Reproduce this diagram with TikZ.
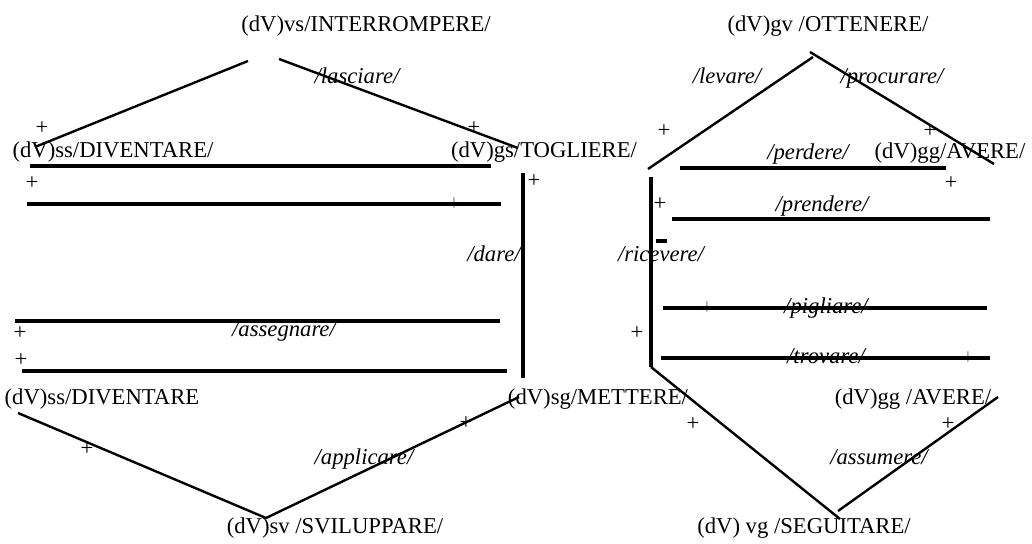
\documentclass[tikz,border=0pt]{standalone}
\usepackage{fontspec}
\setmainfont{Liberation Serif}
\usetikzlibrary{positioning}
\tikzset{
  lbl/.style={inner sep=0pt, font=\fontsize{17}{20}\selectfont},
  verb/.style={inner sep=0pt, font=\fontsize{17}{20}\selectfont\itshape},
  sgn/.style={inner sep=0pt, font=\fontsize{17}{20}\selectfont},
  faint/.style={sgn, text=gray},
  bar/.style={line width=2.4pt},
  slant/.style={line width=1.8pt}
}

\begin{document}
\begin{tikzpicture}[x=0.75pt,y=-0.75pt]
    \useasboundingbox (0,0) rectangle (1032,543);
    % verb nodes
    \node[lbl, anchor=base] (vs) at (366,31) {(dV)vs/INTERROMPERE/};
    \node[lbl, anchor=base] (gv) at (828,31) {(dV)gv /OTTENERE/};
    \node[lbl, anchor=base] (ssA) at (113,157) {(dV)ss/DIVENTARE/};
    \node[lbl, anchor=base] (gs) at (544,157) {(dV)gs/TOGLIERE/};
    \node[lbl, anchor=base] (ggA) at (950,158) {(dV)gg/AVERE/};
    \node[lbl, anchor=base] (ssB) at (102,404) {(dV)ss/DIVENTARE};
    \node[lbl, anchor=base] (sg) at (598,404) {(dV)sg/METTERE/};
    \node[lbl, anchor=base] (ggB) at (913,404) {(dV)gg /AVERE/};
    \node[lbl, anchor=base] (sv) at (335,533) {(dV)sv /SVILUPPARE/};
    \node[lbl, anchor=base] (vg) at (804,533) {(dV) vg /SEGUITARE/};
    % link labels
    \node[verb, anchor=base] (lasciare) at (357,83) {/lasciare/};
    \node[verb, anchor=base] (levare) at (727,83) {/levare/};
    \node[verb, anchor=base] (procurare) at (892,83) {/procurare/};
    \node[verb, anchor=base] (perdere) at (808,159) {/perdere/};
    \node[verb, anchor=base] (prendere) at (822,211) {/prendere/};
    \node[verb, anchor=base] (dare) at (494,261) {/dare/};
    \node[verb, anchor=base] (ricevere) at (661,261) {/ricevere/};
    \node[verb, anchor=base] (assegnare) at (284,336) {/assegnare/};
    \node[verb, anchor=base] (pigliare) at (826,313) {/pigliare/};
    \node[verb, anchor=base] (trovare) at (826,363) {/trovare/};
    \node[verb, anchor=base] (applicare) at (364,464) {/applicare/};
    \node[verb, anchor=base] (assumere) at (879,464) {/assumere/};
    % signs
    \node[sgn] (p1) at (42,128) {+};
    \node[sgn] (p2) at (474,128) {+};
    \node[sgn] (p3) at (32,183) {+};
    \node[sgn] (p4) at (534,181) {+};
    \node[sgn] (p5) at (664,131) {+};
    \node[sgn] (p6) at (930,131) {+};
    \node[sgn] (p7) at (951,183) {+};
    \node[sgn] (p8) at (660,204) {+};
    \node[faint] (p9) at (454,204) {+};
    \node[sgn] (p10) at (20,333) {+};
    \node[sgn] (p11) at (21,360) {+};
    \node[sgn] (p12) at (637,333) {+};
    \node[faint] (p13) at (707,308) {+};
    \node[faint] (p14) at (968,358) {+};
    \node[sgn] (p15) at (87,449) {+};
    \node[sgn] (p16) at (466,423) {+};
    \node[sgn] (p17) at (693,424) {+};
    \node[sgn] (p18) at (948,424) {+};
    % line ends
    \coordinate (a1) at (35,147);  \coordinate (a2) at (248,61);
    \coordinate (b1) at (279,59);  \coordinate (b2) at (518,148);
    \coordinate (c1) at (30,166);  \coordinate (c2) at (491,166);
    \coordinate (d1) at (27,204);  \coordinate (d2) at (501,204);
    \coordinate (e1) at (523,173); \coordinate (e2) at (523,378);
    \coordinate (f1) at (15,321);  \coordinate (f2) at (500,321);
    \coordinate (g1) at (22,371);  \coordinate (g2) at (507,371);
    \coordinate (h1) at (648,169); \coordinate (h2) at (813,57);
    \coordinate (i1) at (810,52);  \coordinate (i2) at (994,164);
    \coordinate (j1) at (680,168); \coordinate (j2) at (946,168);
    \coordinate (k1) at (672,219); \coordinate (k2) at (990,219);
    \coordinate (l1) at (651,177); \coordinate (l2) at (651,367); \coordinate (l3) at (840,519);
    \coordinate (m1) at (663,308); \coordinate (m2) at (987,308);
    \coordinate (n1) at (661,358); \coordinate (n2) at (990,358);
    \coordinate (o1) at (18,413);  \coordinate (o2) at (266,518); \coordinate (o3) at (519,397);
    \coordinate (q1) at (838,511); \coordinate (q2) at (998,397);
    \coordinate (r1) at (656,241); \coordinate (r2) at (667,241);
    % lines
    \draw[slant] (a1) -- (a2);
    \draw[slant] (b1) -- (b2);
    \draw[bar] (c1) -- (c2);
    \draw[bar] (d1) -- (d2);
    \draw[bar] (e1) -- (e2);
    \draw[bar] (f1) -- (f2);
    \draw[bar] (g1) -- (g2);
    \draw[slant] (h1) -- (h2);
    \draw[slant] (i1) -- (i2);
    \draw[bar] (j1) -- (j2);
    \draw[bar] (k1) -- (k2);
    \draw[bar] (l1) -- (l2);
    \draw[slant] (l2) -- (l3);
    \draw[bar] (m1) -- (m2);
    \draw[bar] (n1) -- (n2);
    \draw[slant] (o1) -- (o2) -- (o3);
    \draw[slant] (q1) -- (q2);
    \draw[bar] (r1) -- (r2);
\end{tikzpicture}
\end{document}
